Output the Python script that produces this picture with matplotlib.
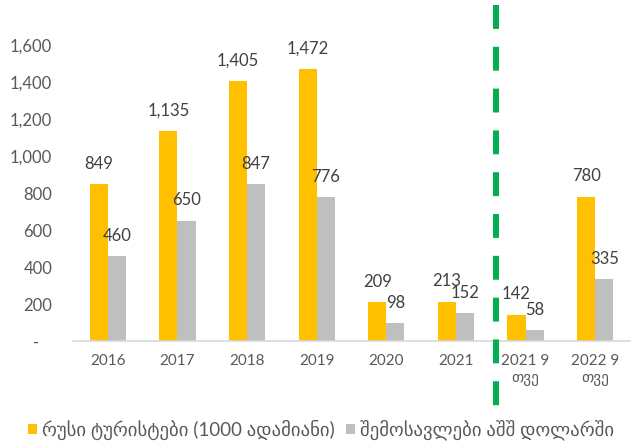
import numpy as np
import matplotlib.pyplot as plt
from matplotlib.lines import Line2D

# Lato for digits, DejaVu Sans picks up the Georgian glyphs
plt.rcParams['font.family'] = ['Lato', 'DejaVu Sans']

categories = ['2016', '2017', '2018', '2019', '2020', '2021', '2021 9\nთვე', '2022 9\nთვე']
tourists = [849, 1135, 1405, 1472, 209, 213, 142, 780]
revenue = [460, 650, 847, 776, 98, 152, 58, 335]
series_names = ['რუსი ტურისტები (1000 ადამიანი)', 'შემოსავლები აშშ დოლარში']
yticks = [0, 200, 400, 600, 800, 1000, 1200, 1400, 1600]

fig = plt.figure(figsize=(6.34, 4.44), dpi=100)
ax = fig.add_axes([73 / 634, 1 - 341 / 444, 557 / 634, 296 / 444])

x = np.arange(len(categories))
w = 0.26
b1 = ax.bar(x - w / 2, tourists, w, color='#FFC000', label=series_names[0])
b2 = ax.bar(x + w / 2, revenue, w, color='#BFBFBF', label=series_names[1])

for bars, vals in ((b1, tourists), (b2, revenue)):
    for r, v in zip(bars, vals):
        ax.annotate(f'{v:,}', (r.get_x() + r.get_width() / 2, v),
                    xytext=(0, 11), textcoords='offset points',
                    ha='center', va='baseline', fontsize=12, color='#404040')

ax.set_xlim(-0.5, len(categories) - 0.5)
ax.set_ylim(0, 1600)
ax.set_yticks(yticks)
ax.set_yticklabels(['-   ' if t == 0 else f'{t:,}' for t in yticks])
ax.set_xticks(x)
ax.set_xticklabels(categories, linespacing=1.3)
ax.tick_params(axis='y', length=0, colors='#595959', labelsize=12, pad=15)
ax.tick_params(axis='x', length=0, colors='#595959', labelsize=11, pad=9)
for s in ['top', 'right', 'left']:
    ax.spines[s].set_visible(False)
ax.spines['bottom'].set_color('#D9D9D9')
ax.spines['bottom'].set_linewidth(1.2)

# dashed separator between full years and 9-month data
fig.add_artist(Line2D([496 / 634, 496 / 634], [1 - 5 / 444, 1 - 410 / 444],
                      color='#00B050', lw=4.3, ls=(0, (4.0, 3.0))))

fig.legend(handles=[b1, b2], loc='center', bbox_to_anchor=(321 / 634, 1 - 430 / 444),
           ncol=2, frameon=False, fontsize=13.5, handlelength=0.5,
           handleheight=0.5, handletextpad=0.25, columnspacing=0.6,
           labelcolor='#595959')

fig.savefig('out.png', dpi=100)
